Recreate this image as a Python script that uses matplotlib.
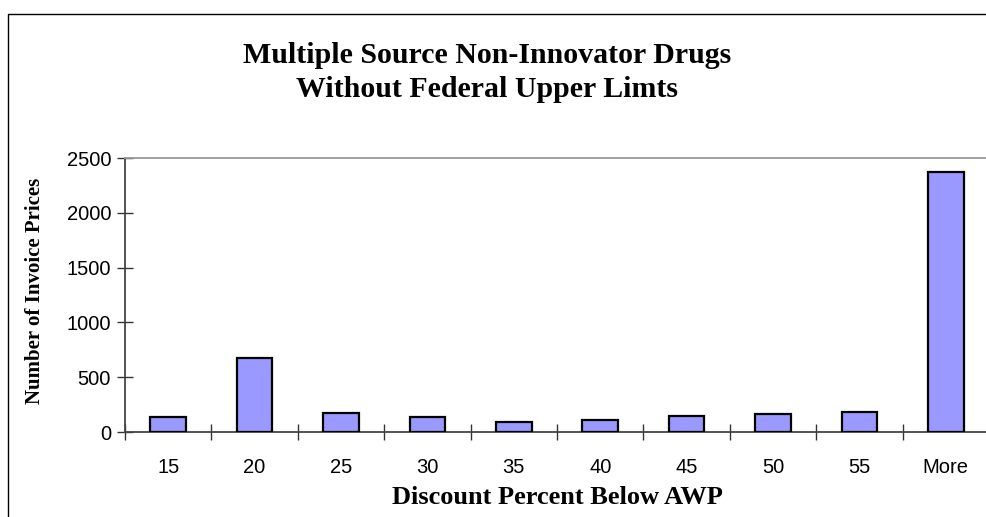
import matplotlib
matplotlib.use("Agg")
import matplotlib.pyplot as plt
from matplotlib.lines import Line2D
import numpy as np

categories = ["15", "20", "25", "30", "35", "40", "45", "50", "55", "More"]
counts = [140, 675, 170, 140, 90, 110, 145, 165, 180, 2375]
yticks = [0, 500, 1000, 1500, 2000, 2500]

title = "Multiple Source Non-Innovator Drugs\nWithout Federal Upper Limts"
xlabel = "Discount Percent Below AWP"
ylabel = "Number of Invoice Prices"

W, H = 987, 517
fig = plt.figure(figsize=(W / 100, H / 100), dpi=100)
fig.patch.set_facecolor("white")

# outer chart border (left and top visible)
bx, by = 8.5 / W, 1 - 14 / H
fig.add_artist(Line2D([bx, bx, 1.05], [-0.05, by, by], transform=fig.transFigure,
                      color="black", linewidth=1.0, clip_on=False))

ax = fig.add_axes([125 / W, 1 - 432 / H, (989 - 125) / W, (432 - 158) / H])
x = np.arange(len(categories))
ax.bar(x, counts, width=0.41, color="#9999FF", edgecolor="black", linewidth=1.6, zorder=3)

ax.set_xlim(-0.5, len(categories) - 0.5)
ax.set_ylim(0, 2500)
ax.set_yticks(yticks)
ax.set_yticklabels([str(v) for v in yticks], fontsize=14.5, family="Liberation Sans")

# boundaries as major ticks, labels as minor ticks
ax.set_xticks(np.arange(len(categories) + 1) - 0.5)
ax.set_xticklabels([])
ax.set_xticks(x, minor=True)
ax.set_xticklabels(categories, minor=True, fontsize=14.5, family="Liberation Sans")
ax.tick_params(axis="x", which="major", direction="inout", length=12, width=1, color="#333333")
ax.tick_params(axis="x", which="minor", length=0, pad=19)
ax.tick_params(axis="y", direction="inout", length=12, width=1, color="#333333", pad=4)

ax.spines["right"].set_visible(False)
ax.spines["top"].set_color("#999999")
ax.spines["top"].set_linewidth(1.3)
ax.spines["left"].set_color("#444444")
ax.spines["left"].set_linewidth(1.3)
ax.spines["bottom"].set_color("#444444")
ax.spines["bottom"].set_linewidth(1.3)

fig.text(487 / W, 1 - 72.5 / H, title, ha="center", va="center", fontsize=21.5,
         fontweight="bold", family="Liberation Serif", linespacing=1.38)
fig.text(557 / W, 1 - 497 / H, xlabel, ha="center", va="center", fontsize=19,
         fontweight="bold", family="Liberation Serif")
fig.text(35 / W, 1 - 291 / H, ylabel, ha="center", va="center", rotation=90, fontsize=15,
         fontweight="bold", family="Liberation Serif")

fig.savefig("out.png", dpi=100)
